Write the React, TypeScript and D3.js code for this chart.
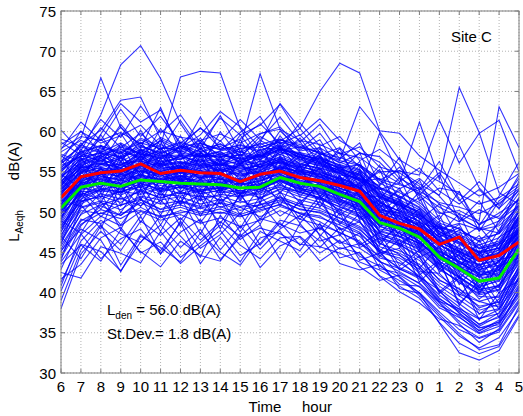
import React from "react";
import * as d3 from "d3";

// Hour-of-day axis, starting at 06:00 and running through the night
const hours = [6, 7, 8, 9, 10, 11, 12, 13, 14, 15, 16, 17, 18, 19, 20, 21, 22, 23, 0, 1, 2, 3, 4, 5];
const yTicks = [30, 35, 40, 45, 50, 55, 60, 65, 70, 75];

// Energetic average of the hourly levels (red)
const energeticMean = [51.8, 54.4, 54.9, 55.1, 56.0, 54.8, 55.2, 54.9, 54.8, 53.8, 54.7, 55.1, 54.3, 53.9, 53.3, 52.6, 49.6, 48.6, 47.9, 46.0, 46.9, 44.0, 44.6, 46.3];
// Arithmetic average of the hourly levels (green)
const arithmeticMean = [50.5, 53.1, 53.6, 53.2, 54.0, 53.8, 53.6, 53.5, 53.4, 53.0, 53.1, 54.3, 53.6, 53.2, 52.2, 51.3, 48.7, 48.0, 46.9, 44.4, 43.0, 41.4, 41.8, 45.4];

// Individual daily profiles of L_Aeq,h (blue)
const dailyProfiles: number[][] = [
  [53.2, 56.1, 57.0, 55.8, 57.4, 56.2, 56.9, 55.7, 56.3, 55.1, 56.0, 57.2, 56.1, 55.4, 54.8, 53.9, 51.2, 50.1, 49.3, 46.8, 45.2, 44.1, 44.9, 48.2],
  [55.0, 57.3, 56.2, 57.8, 56.5, 57.9, 56.0, 57.1, 55.9, 56.8, 55.6, 57.5, 56.9, 56.2, 55.1, 54.0, 52.3, 51.0, 48.7, 47.9, 46.3, 45.0, 46.2, 49.5],
  [52.1, 55.2, 56.4, 55.1, 56.8, 55.3, 55.9, 56.6, 54.9, 55.7, 56.3, 56.1, 55.2, 54.6, 53.7, 52.9, 50.4, 49.8, 48.2, 45.9, 44.6, 42.8, 43.7, 47.1],
  [56.3, 58.1, 57.4, 58.6, 57.2, 56.8, 58.0, 56.9, 57.5, 56.1, 57.3, 58.4, 57.0, 56.7, 55.9, 55.2, 53.1, 52.0, 50.6, 48.4, 47.2, 45.9, 46.8, 50.3],
  [51.4, 54.0, 55.3, 54.2, 55.6, 56.1, 54.8, 55.5, 56.0, 54.6, 55.1, 56.7, 55.8, 54.9, 54.2, 53.1, 50.6, 49.2, 47.9, 46.1, 44.2, 43.5, 44.0, 46.9],
  [54.2, 56.7, 55.9, 57.0, 58.3, 57.1, 56.5, 57.8, 56.4, 57.2, 56.8, 57.9, 56.3, 55.8, 55.3, 54.6, 51.9, 51.1, 49.9, 47.5, 46.6, 44.8, 45.5, 49.0],
  [49.8, 53.5, 54.6, 55.9, 55.0, 54.4, 55.7, 54.3, 55.2, 55.8, 54.4, 55.6, 55.0, 54.1, 53.5, 52.4, 50.1, 48.9, 47.4, 45.2, 43.8, 42.1, 43.2, 46.0],
  [57.5, 58.9, 58.0, 57.3, 59.2, 58.1, 57.6, 58.5, 57.8, 58.3, 57.4, 59.0, 58.2, 57.3, 56.4, 55.8, 53.6, 52.4, 51.2, 49.0, 47.9, 46.3, 47.4, 51.2],
  [50.2, 52.8, 53.9, 52.7, 54.3, 53.5, 54.1, 53.0, 53.8, 52.6, 53.4, 54.6, 53.7, 53.0, 52.1, 51.0, 48.2, 47.6, 46.4, 43.9, 42.3, 40.8, 41.4, 44.8],
  [48.6, 52.1, 53.2, 54.0, 53.1, 54.2, 53.3, 54.4, 52.9, 53.6, 52.8, 54.0, 53.2, 52.7, 51.6, 50.8, 48.9, 47.3, 46.1, 44.2, 43.1, 41.9, 42.0, 45.3],
  [51.7, 54.3, 54.0, 53.5, 55.2, 54.6, 53.8, 54.9, 54.1, 53.7, 54.5, 55.4, 54.3, 53.9, 52.9, 52.1, 49.4, 48.8, 47.6, 45.1, 43.7, 42.4, 42.9, 46.4],
  [49.1, 53.0, 52.6, 53.8, 54.7, 53.0, 54.6, 53.2, 54.3, 52.4, 53.9, 54.8, 53.1, 53.5, 52.4, 51.6, 49.0, 48.1, 46.8, 44.6, 43.4, 41.0, 41.7, 45.0],
  [52.6, 53.9, 54.8, 53.1, 53.9, 55.1, 53.1, 53.8, 53.5, 54.2, 52.9, 54.1, 54.4, 52.8, 52.0, 50.9, 48.5, 48.3, 47.2, 44.9, 42.9, 41.6, 42.5, 45.8],
  [47.9, 51.6, 52.9, 52.4, 53.6, 52.7, 53.5, 52.6, 53.1, 52.9, 53.6, 54.0, 52.9, 52.5, 51.4, 50.4, 47.9, 47.4, 46.0, 43.6, 42.0, 40.3, 40.9, 44.1],
  [50.9, 54.6, 53.4, 54.7, 54.1, 53.9, 54.5, 53.6, 52.8, 53.3, 54.0, 55.0, 53.9, 53.7, 52.6, 51.9, 49.6, 48.5, 47.1, 45.4, 43.6, 42.7, 42.2, 46.1],
  [53.6, 55.3, 54.5, 54.0, 55.8, 54.2, 55.0, 54.6, 54.7, 53.9, 54.1, 55.7, 54.8, 54.3, 53.3, 52.5, 49.8, 49.1, 48.0, 46.0, 44.5, 43.1, 43.8, 47.3],
  [47.2, 50.6, 51.4, 50.8, 52.0, 51.5, 51.9, 51.0, 51.6, 50.7, 51.3, 52.4, 51.5, 50.9, 49.8, 48.7, 46.6, 45.9, 44.6, 42.1, 40.4, 38.9, 39.6, 43.0],
  [45.8, 49.7, 50.9, 51.7, 50.8, 52.3, 51.0, 52.1, 50.6, 51.4, 50.5, 51.8, 50.7, 50.2, 49.3, 48.2, 46.1, 45.2, 44.0, 41.6, 40.1, 38.3, 38.8, 42.4],
  [48.4, 51.3, 52.0, 51.2, 52.8, 51.7, 52.6, 51.5, 52.2, 51.9, 52.4, 53.1, 52.2, 51.6, 50.7, 49.5, 47.3, 46.6, 45.3, 42.8, 41.5, 39.7, 40.3, 43.6],
  [46.5, 50.2, 49.8, 50.9, 51.6, 50.4, 51.3, 50.5, 51.1, 50.2, 50.9, 51.5, 50.3, 50.0, 48.9, 47.8, 45.7, 44.9, 43.5, 41.2, 39.6, 37.8, 38.5, 41.9],
  [49.5, 52.4, 51.6, 52.6, 53.1, 52.2, 52.0, 52.7, 51.4, 52.5, 51.8, 52.9, 52.6, 51.8, 51.0, 50.1, 47.7, 47.0, 45.8, 43.3, 41.9, 40.1, 40.7, 44.3],
  [44.6, 48.9, 50.3, 49.6, 51.2, 50.0, 50.6, 49.8, 50.4, 49.5, 50.1, 51.0, 49.8, 49.3, 48.4, 47.3, 45.2, 44.6, 43.2, 40.8, 39.1, 37.4, 38.0, 41.3],
  [52.8, 54.9, 56.8, 54.1, 57.1, 53.6, 56.2, 54.0, 57.0, 53.9, 56.5, 55.3, 57.4, 53.8, 55.6, 51.8, 52.0, 47.9, 49.5, 44.3, 46.8, 41.8, 45.1, 47.6],
  [50.0, 55.8, 52.5, 56.3, 53.2, 56.7, 52.8, 55.9, 53.4, 56.1, 52.7, 56.6, 53.3, 55.5, 51.7, 53.6, 48.1, 50.6, 45.7, 47.3, 42.6, 45.2, 41.5, 48.8],
  [54.7, 52.9, 55.4, 52.3, 56.0, 52.5, 55.6, 52.2, 55.4, 52.1, 55.2, 53.4, 55.7, 51.9, 54.5, 50.3, 51.5, 46.9, 48.8, 43.4, 45.9, 40.5, 44.1, 44.6],
  [46.9, 52.6, 50.4, 53.3, 50.7, 54.0, 51.2, 54.2, 51.0, 53.8, 51.6, 53.7, 51.2, 53.4, 49.6, 51.4, 46.3, 48.4, 44.4, 45.6, 41.0, 43.6, 39.9, 46.6],
  [55.8, 56.9, 59.1, 56.4, 58.7, 55.6, 58.4, 56.3, 58.9, 55.9, 58.6, 57.1, 59.2, 56.0, 57.4, 53.7, 54.2, 50.3, 51.8, 46.9, 48.5, 44.0, 47.8, 50.9],
  [51.0, 53.7, 51.2, 55.0, 52.3, 54.8, 52.4, 55.3, 52.0, 55.0, 52.2, 55.9, 51.9, 54.9, 50.8, 52.8, 47.4, 49.7, 45.0, 46.6, 41.7, 44.4, 40.6, 47.9],
  [38.0, 44.8, 47.6, 45.2, 48.9, 47.1, 49.3, 46.5, 48.8, 47.0, 49.2, 48.5, 47.4, 48.0, 46.3, 45.5, 43.9, 42.6, 41.1, 38.4, 37.2, 35.6, 36.3, 39.8],
  [40.2, 46.0, 45.1, 42.7, 46.3, 48.4, 45.6, 47.9, 44.1, 46.9, 48.0, 47.3, 46.0, 45.7, 44.9, 43.8, 42.8, 41.5, 40.0, 37.6, 35.4, 34.3, 35.1, 38.7],
  [41.7, 43.5, 46.8, 48.1, 44.9, 46.3, 43.6, 45.8, 47.7, 44.6, 46.1, 49.0, 48.3, 46.4, 47.2, 44.5, 43.3, 41.9, 39.6, 37.0, 34.6, 33.1, 34.4, 37.9],
  [43.8, 47.3, 44.2, 46.7, 47.9, 44.8, 47.5, 49.1, 45.3, 48.3, 45.4, 47.9, 49.6, 47.2, 45.4, 46.1, 44.6, 43.1, 42.0, 39.2, 37.7, 36.1, 36.9, 40.6],
  [39.0, 45.3, 48.5, 43.4, 47.2, 45.2, 48.7, 43.6, 46.9, 43.8, 47.6, 46.4, 45.2, 48.6, 44.3, 45.0, 42.1, 40.8, 39.3, 36.3, 33.7, 32.4, 33.3, 37.2],
  [42.5, 41.8, 45.7, 44.9, 43.7, 47.6, 44.4, 46.2, 48.4, 45.9, 44.2, 46.8, 47.0, 44.9, 46.5, 43.2, 41.5, 42.2, 40.7, 38.8, 36.4, 34.9, 35.8, 39.1],
  [55.2, 57.6, 62.1, 68.3, 70.7, 66.6, 61.0, 57.4, 58.2, 56.5, 57.0, 58.3, 56.6, 55.9, 54.8, 53.6, 51.2, 50.1, 48.8, 46.3, 45.1, 43.9, 44.5, 47.8],
  [56.8, 59.2, 66.7, 60.5, 58.3, 57.2, 58.6, 56.9, 57.5, 56.3, 57.8, 58.0, 57.2, 56.4, 55.6, 54.2, 52.0, 50.7, 49.5, 47.2, 46.0, 44.6, 45.3, 49.6],
  [54.1, 58.4, 60.2, 63.9, 64.3, 59.1, 57.8, 58.9, 56.9, 57.6, 56.2, 57.4, 56.8, 56.0, 55.1, 53.9, 51.7, 50.9, 49.2, 46.9, 45.4, 44.2, 45.0, 48.7],
  [57.2, 56.3, 59.7, 63.5, 61.2, 62.7, 58.2, 57.5, 58.5, 57.0, 58.9, 57.7, 58.1, 56.9, 55.8, 55.0, 52.6, 51.5, 50.3, 48.0, 46.7, 45.5, 46.0, 50.1],
  [58.4, 60.0, 58.6, 59.5, 60.8, 58.3, 66.8, 67.5, 67.3, 60.4, 56.8, 58.6, 57.1, 56.5, 55.4, 54.5, 52.2, 51.3, 50.0, 47.6, 46.3, 45.1, 45.9, 49.4],
  [55.6, 57.0, 57.9, 56.8, 58.1, 57.4, 58.0, 59.6, 62.5, 60.6, 58.0, 59.0, 58.4, 57.3, 56.2, 55.3, 53.0, 51.9, 50.5, 48.2, 47.0, 45.6, 46.4, 50.0],
  [53.9, 56.2, 57.1, 57.9, 56.7, 58.4, 57.3, 57.0, 57.6, 58.1, 67.2, 60.3, 57.4, 56.8, 55.7, 54.7, 52.4, 51.2, 49.8, 47.3, 46.1, 44.9, 45.6, 49.2],
  [56.1, 57.5, 58.3, 57.2, 59.0, 57.8, 58.7, 57.9, 58.4, 57.4, 58.6, 63.5, 60.4, 65.0, 68.5, 67.3, 60.1, 59.8, 57.0, 55.2, 53.6, 52.0, 53.1, 54.8],
  [54.5, 56.0, 56.8, 58.1, 57.3, 56.6, 58.2, 57.1, 56.8, 57.9, 58.4, 59.1, 57.6, 58.0, 56.5, 63.1, 60.0, 56.5, 55.0, 53.8, 52.2, 51.0, 51.8, 53.5],
  [53.5, 55.9, 56.5, 55.8, 57.2, 56.0, 56.9, 56.3, 56.6, 55.8, 56.7, 57.6, 56.5, 55.7, 55.0, 54.1, 52.8, 53.6, 61.2, 54.1, 65.5, 59.9, 52.4, 51.0],
  [52.8, 55.1, 55.9, 56.7, 55.9, 56.8, 55.6, 56.5, 55.8, 56.4, 55.9, 56.9, 56.0, 55.3, 54.2, 53.5, 55.0, 55.1, 54.6, 61.4, 56.1, 59.8, 61.4, 55.0],
  [51.6, 54.2, 55.3, 54.9, 56.1, 55.4, 55.8, 55.2, 55.6, 55.0, 55.5, 56.3, 55.4, 54.8, 53.6, 52.7, 59.8, 54.5, 52.0, 49.8, 50.2, 48.9, 63.1, 58.0],
  [55.0, 57.4, 58.2, 57.5, 58.6, 57.9, 58.0, 58.6, 57.7, 58.4, 57.6, 58.8, 60.4, 57.4, 56.8, 55.9, 54.0, 55.2, 53.5, 52.1, 58.3, 53.0, 50.5, 52.7],
  [60.2, 57.5, 56.8, 58.4, 57.1, 58.9, 57.4, 58.3, 57.2, 57.9, 58.1, 58.7, 58.0, 57.5, 56.1, 57.3, 56.9, 54.2, 52.8, 56.3, 51.6, 48.4, 49.9, 51.5],
  [50.8, 53.4, 54.2, 53.6, 54.5, 54.0, 54.3, 53.9, 54.1, 53.4, 53.8, 54.9, 54.0, 53.2, 51.7, 50.2, 46.9, 45.8, 43.2, 40.1, 38.2, 36.0, 37.5, 42.7],
  [49.3, 52.7, 53.5, 52.9, 53.8, 53.3, 53.0, 53.6, 53.2, 53.1, 52.6, 54.2, 53.0, 52.4, 50.9, 49.6, 46.2, 44.7, 42.4, 39.3, 37.5, 35.2, 36.6, 41.8],
  [52.3, 54.8, 55.6, 54.7, 55.9, 55.1, 55.5, 54.8, 55.3, 54.5, 55.0, 55.8, 54.9, 54.4, 53.5, 52.3, 50.9, 50.2, 49.6, 48.1, 47.5, 46.7, 47.3, 49.9],
  [48.2, 51.9, 52.8, 52.1, 53.3, 52.5, 53.1, 52.3, 52.7, 52.0, 52.6, 53.4, 52.5, 51.7, 50.3, 49.4, 46.8, 46.1, 45.0, 43.0, 41.3, 39.5, 39.4, 43.9],
  [53.0, 55.6, 56.1, 55.5, 56.9, 55.9, 56.3, 55.6, 56.0, 55.2, 55.9, 56.8, 55.6, 55.1, 54.0, 53.0, 50.0, 49.5, 48.3, 45.8, 44.9, 43.4, 44.3, 47.6],
  [47.6, 51.0, 52.3, 51.6, 52.6, 51.8, 52.4, 51.9, 52.0, 51.2, 51.7, 52.8, 51.9, 51.2, 50.0, 48.9, 45.4, 44.0, 41.9, 38.7, 36.1, 33.8, 35.5, 40.4],
  [51.2, 53.8, 54.7, 54.5, 55.1, 54.8, 54.9, 55.2, 54.6, 54.9, 54.7, 55.5, 55.1, 54.5, 53.0, 51.9, 49.2, 48.4, 47.0, 44.7, 43.3, 42.5, 43.9, 47.0],
  [45.1, 49.1, 48.6, 49.9, 50.2, 49.5, 49.9, 50.5, 49.8, 50.6, 49.4, 50.7, 49.9, 49.5, 48.0, 47.0, 44.3, 43.7, 42.1, 39.7, 37.9, 35.6, 36.0, 40.2],
  [46.2, 50.5, 51.2, 50.3, 51.9, 51.0, 51.4, 50.7, 51.2, 50.6, 50.9, 51.9, 51.0, 50.5, 49.2, 48.0, 45.2, 42.0, 39.9, 36.2, 32.5, 31.6, 32.8, 37.0],
  [44.3, 48.5, 49.9, 49.2, 50.6, 49.3, 50.2, 49.6, 50.0, 49.4, 50.3, 50.9, 49.8, 48.8, 47.4, 46.4, 44.0, 40.5, 39.9, 37.3, 34.9, 32.9, 33.5, 38.3],
  [40.8, 47.2, 49.5, 48.3, 50.1, 49.0, 49.7, 48.6, 49.3, 48.2, 49.0, 50.2, 49.1, 48.4, 47.5, 46.2, 43.8, 43.0, 41.7, 39.0, 37.0, 35.0, 36.2, 39.5],
  [42.9, 48.3, 50.8, 49.6, 51.5, 50.3, 50.9, 50.0, 50.7, 49.7, 50.5, 51.3, 50.4, 49.9, 48.7, 47.5, 45.0, 44.3, 42.9, 40.4, 38.6, 36.8, 37.4, 41.0],
  [51.9, 54.5, 55.0, 54.4, 55.5, 54.6, 54.9, 54.3, 54.7, 54.0, 54.6, 55.6, 54.5, 54.0, 53.0, 52.2, 49.3, 48.6, 47.3, 45.0, 43.9, 42.2, 42.8, 46.6],
  [50.4, 53.3, 54.1, 53.4, 54.8, 53.7, 54.2, 53.7, 53.9, 53.5, 53.9, 54.7, 53.8, 53.3, 52.3, 51.3, 48.6, 47.8, 46.7, 44.3, 42.7, 41.3, 41.9, 45.5],
  [52.9, 55.5, 55.7, 56.0, 56.3, 55.7, 56.1, 55.4, 55.9, 55.4, 55.3, 56.4, 55.7, 55.0, 54.1, 53.3, 50.8, 49.9, 48.9, 46.5, 45.5, 44.5, 44.7, 47.9],
  [49.8, 52.2, 53.0, 52.5, 53.5, 52.9, 53.4, 52.8, 53.0, 52.3, 52.9, 53.8, 52.8, 52.1, 51.2, 50.3, 47.6, 46.9, 45.6, 43.5, 41.8, 40.4, 40.8, 44.6],
  [53.4, 56.4, 57.6, 56.7, 57.8, 56.9, 57.6, 56.8, 57.2, 56.6, 57.0, 57.8, 57.2, 56.6, 55.4, 54.7, 52.1, 50.8, 49.7, 47.6, 46.2, 45.0, 45.5, 49.3],
  [48.0, 51.4, 51.9, 52.6, 52.2, 53.0, 52.3, 52.9, 52.4, 52.7, 52.1, 53.3, 52.4, 51.8, 50.6, 49.9, 47.1, 46.4, 45.5, 43.1, 41.2, 39.9, 40.4, 44.0],
  [54.0, 51.9, 57.2, 53.4, 58.0, 52.6, 57.5, 51.8, 56.9, 53.0, 57.8, 54.6, 52.4, 56.3, 51.2, 55.0, 48.8, 51.6, 46.0, 48.9, 43.1, 46.5, 42.7, 49.6],
  [49.0, 55.1, 51.8, 57.0, 51.5, 56.2, 50.9, 57.3, 52.3, 56.7, 51.1, 57.0, 53.1, 51.5, 54.6, 49.0, 50.3, 45.6, 48.1, 42.5, 44.8, 39.8, 43.5, 45.2],
  [56.5, 53.6, 58.3, 54.9, 57.6, 58.8, 53.9, 58.1, 55.2, 52.9, 58.3, 56.0, 54.7, 57.9, 53.4, 55.8, 52.6, 48.5, 50.4, 45.9, 47.3, 43.0, 46.9, 48.4],
  [47.5, 53.1, 55.6, 50.8, 55.2, 51.1, 55.8, 50.6, 54.6, 51.4, 54.9, 50.8, 55.3, 52.0, 50.1, 52.7, 45.9, 48.8, 43.0, 45.9, 39.6, 42.4, 38.6, 44.9],
  [53.1, 57.9, 53.6, 58.5, 54.3, 59.2, 55.0, 58.7, 54.5, 59.0, 55.4, 59.5, 56.4, 58.1, 53.8, 56.3, 50.5, 53.0, 48.0, 49.6, 45.0, 47.1, 43.8, 50.4],
  [51.5, 50.7, 55.1, 49.9, 53.7, 49.6, 54.4, 49.5, 53.1, 49.7, 53.2, 51.6, 50.8, 53.8, 48.5, 51.2, 45.1, 47.6, 42.2, 44.0, 38.4, 41.6, 37.9, 43.4],
  [44.0, 50.9, 47.9, 53.5, 48.7, 52.7, 48.2, 52.8, 47.9, 52.3, 48.5, 52.6, 49.1, 52.0, 47.1, 49.9, 44.5, 46.6, 41.3, 43.8, 38.7, 40.9, 36.9, 42.1],
  [57.0, 55.4, 59.6, 56.2, 60.2, 55.8, 59.5, 55.5, 60.0, 56.8, 59.4, 58.0, 58.8, 55.2, 57.9, 53.0, 55.3, 49.9, 52.5, 47.2, 49.8, 44.7, 49.0, 50.8],
  [52.4, 56.6, 54.7, 56.9, 54.8, 58.1, 53.7, 57.4, 55.6, 58.0, 54.2, 58.3, 55.0, 57.2, 52.8, 55.4, 49.9, 51.9, 47.0, 48.5, 44.1, 46.0, 43.0, 49.1],
  [50.6, 51.5, 54.9, 52.0, 56.6, 51.9, 55.3, 51.4, 56.4, 51.6, 56.1, 52.3, 55.9, 50.6, 54.3, 49.2, 51.0, 46.0, 47.9, 42.9, 45.3, 40.0, 43.3, 44.3],
  [45.4, 49.8, 52.4, 47.8, 52.9, 48.4, 52.5, 48.7, 51.9, 48.0, 52.0, 49.5, 51.2, 47.8, 50.5, 45.9, 47.5, 43.3, 45.3, 40.1, 42.1, 36.6, 40.0, 41.5],
  [53.7, 56.8, 52.9, 57.6, 52.9, 57.4, 53.5, 56.9, 52.6, 57.3, 53.3, 57.9, 52.8, 56.9, 52.2, 55.1, 48.7, 51.4, 45.4, 48.3, 43.5, 44.8, 42.2, 48.0],
  [55.4, 58.6, 55.9, 59.8, 56.1, 60.4, 56.9, 59.2, 56.1, 59.6, 56.4, 60.1, 57.7, 59.0, 55.0, 57.4, 51.6, 54.3, 49.0, 51.0, 46.6, 48.2, 45.3, 51.8],
  [48.9, 47.4, 51.3, 48.4, 51.8, 47.6, 51.9, 47.3, 51.5, 47.5, 51.2, 48.1, 51.6, 47.0, 49.9, 45.6, 46.8, 42.8, 44.5, 39.9, 41.8, 37.3, 39.2, 42.6],
  [52.0, 54.2, 57.5, 55.0, 55.7, 57.5, 54.7, 57.6, 54.0, 56.0, 57.2, 55.2, 56.9, 54.2, 55.9, 52.0, 53.2, 48.3, 49.8, 46.1, 47.8, 42.6, 46.0, 47.3],
  [46.0, 52.3, 49.4, 52.0, 49.6, 51.5, 49.0, 51.7, 48.6, 52.2, 49.1, 52.1, 48.6, 51.4, 47.8, 48.8, 44.9, 45.5, 42.6, 42.4, 39.8, 38.9, 38.2, 42.9],
  [52.5, 55.0, 55.5, 55.2, 56.0, 55.2, 55.6, 55.0, 55.4, 54.7, 55.2, 56.1, 55.3, 54.7, 53.6, 52.8, 51.5, 49.4, 48.5, 46.9, 48.1, 45.4, 46.2, 47.8],
  [50.1, 53.0, 53.8, 53.2, 54.4, 53.6, 53.9, 53.2, 53.7, 53.0, 53.5, 54.4, 53.4, 52.9, 51.9, 51.0, 47.5, 46.0, 44.3, 41.5, 40.5, 38.1, 38.9, 43.2],
  [54.6, 56.9, 57.3, 56.9, 57.7, 57.0, 57.1, 56.9, 57.0, 56.7, 57.2, 58.0, 56.8, 56.0, 54.9, 54.1, 51.8, 50.9, 50.1, 47.9, 48.6, 47.8, 48.3, 50.7],
  [49.4, 52.6, 52.5, 52.8, 53.9, 52.6, 53.2, 52.5, 53.6, 52.2, 53.4, 53.9, 52.7, 52.3, 51.3, 50.6, 48.4, 47.9, 46.3, 43.9, 42.1, 39.2, 41.0, 44.7],
  [51.3, 53.6, 54.4, 54.1, 54.6, 54.1, 54.5, 54.3, 54.4, 54.1, 54.2, 55.2, 54.2, 53.6, 52.5, 51.4, 49.8, 48.0, 46.4, 44.0, 44.6, 42.3, 42.1, 47.2],
  [55.3, 57.0, 56.4, 57.4, 56.9, 57.6, 56.6, 57.3, 56.8, 57.1, 56.5, 57.9, 56.9, 56.3, 55.5, 55.9, 54.1, 53.4, 52.6, 51.2, 50.6, 49.8, 51.1, 52.9],
  [53.8, 55.7, 57.0, 56.1, 56.4, 55.5, 57.2, 55.9, 56.5, 56.0, 57.1, 56.2, 55.6, 56.8, 54.6, 54.2, 52.9, 51.8, 53.1, 50.0, 48.8, 50.3, 49.2, 51.6],
  [57.9, 59.4, 58.9, 59.9, 58.5, 60.1, 59.3, 58.9, 59.7, 58.6, 59.8, 60.3, 58.9, 58.4, 57.3, 56.8, 55.0, 53.6, 52.3, 50.6, 49.4, 47.9, 48.9, 52.4],
  [50.2, 54.8, 56.7, 55.4, 57.7, 56.3, 56.6, 57.9, 55.7, 57.5, 56.9, 58.2, 55.9, 57.0, 54.4, 53.1, 51.0, 52.7, 50.9, 48.6, 47.9, 46.4, 48.6, 51.8],
  [56.0, 58.3, 57.6, 60.6, 57.4, 59.3, 58.1, 60.5, 57.9, 59.1, 61.0, 58.5, 59.6, 57.1, 58.0, 55.6, 53.9, 52.9, 54.2, 52.0, 49.2, 48.0, 47.4, 50.6],
  [43.5, 45.9, 43.9, 47.8, 45.1, 43.2, 46.4, 44.6, 43.9, 47.3, 43.1, 45.8, 46.9, 43.9, 45.6, 44.9, 42.0, 40.1, 38.7, 36.7, 35.9, 34.4, 35.3, 38.9],
  [45.2, 47.9, 46.5, 42.6, 47.0, 45.6, 43.8, 47.4, 45.0, 43.4, 46.8, 47.6, 44.4, 46.9, 43.6, 42.8, 43.5, 41.0, 40.8, 38.1, 36.9, 35.3, 36.4, 40.8],
  [47.0, 44.2, 48.3, 46.0, 49.5, 44.8, 48.9, 45.5, 47.2, 49.9, 45.9, 48.7, 45.9, 48.2, 46.1, 47.4, 43.0, 42.4, 41.2, 38.9, 38.0, 36.7, 37.9, 41.8],
  [41.3, 46.4, 49.0, 47.3, 46.2, 49.6, 47.0, 44.4, 49.6, 46.6, 48.4, 44.1, 48.6, 45.6, 48.1, 44.0, 44.9, 42.9, 41.9, 40.3, 37.4, 35.8, 37.1, 39.9],
  [50.7, 53.6, 55.4, 54.6, 56.1, 55.0, 55.8, 54.1, 55.5, 54.3, 55.7, 56.2, 55.5, 54.4, 53.8, 52.6, 50.3, 49.6, 48.6, 46.3, 45.1, 43.8, 44.6, 47.5],
  [52.2, 55.9, 54.8, 55.5, 54.6, 56.5, 54.4, 56.1, 54.9, 55.9, 54.8, 56.5, 54.6, 55.4, 53.2, 53.4, 50.2, 49.9, 48.1, 46.7, 45.0, 44.0, 45.3, 48.1],
  [48.8, 52.9, 54.4, 53.9, 55.4, 53.8, 55.2, 54.5, 54.2, 53.9, 54.8, 55.3, 54.7, 53.4, 52.7, 51.5, 49.0, 48.7, 47.8, 45.6, 43.9, 42.9, 43.4, 46.2],
  [51.0, 54.1, 56.0, 54.8, 57.0, 55.6, 55.4, 56.2, 55.1, 56.1, 55.6, 56.6, 55.0, 54.7, 53.9, 53.0, 51.3, 49.2, 48.4, 46.4, 44.9, 43.3, 44.9, 47.9],
  [49.7, 53.8, 53.1, 55.4, 53.6, 55.0, 54.0, 54.0, 54.9, 53.5, 54.8, 54.4, 54.2, 53.8, 52.7, 51.7, 49.1, 48.2, 47.5, 44.8, 43.2, 42.0, 42.7, 46.8],
  [46.7, 51.2, 52.8, 53.3, 52.7, 54.1, 52.6, 53.3, 52.6, 53.7, 53.0, 53.9, 52.9, 52.6, 51.5, 50.7, 48.3, 47.0, 46.2, 44.5, 42.5, 40.6, 41.6, 45.7],
  [57.8, 61.2, 58.9, 62.8, 59.4, 61.9, 58.6, 60.4, 58.8, 61.5, 59.0, 61.8, 58.7, 60.9, 57.2, 58.1, 55.6, 54.9, 53.2, 51.0, 49.8, 48.6, 49.5, 52.8],
  [59.1, 58.2, 61.5, 59.3, 63.2, 59.8, 62.1, 58.6, 61.7, 59.6, 60.8, 63.4, 59.5, 61.6, 58.9, 57.4, 56.2, 53.8, 55.5, 52.6, 51.0, 52.8, 50.4, 54.6],
  [56.2, 60.1, 57.3, 60.9, 58.0, 63.0, 57.5, 61.8, 57.7, 59.9, 61.9, 57.9, 61.1, 58.2, 59.4, 56.4, 57.8, 55.9, 52.1, 54.6, 48.9, 51.4, 47.5, 53.9],
  [58.7, 57.1, 60.5, 58.0, 59.8, 57.6, 61.4, 57.8, 62.0, 57.5, 59.7, 60.6, 57.9, 59.8, 56.6, 58.6, 53.4, 56.8, 51.4, 53.0, 52.5, 48.3, 52.0, 56.2],
  [54.4, 56.5, 57.4, 56.3, 57.5, 56.7, 57.0, 56.2, 57.3, 56.2, 56.9, 57.7, 57.4, 56.1, 55.2, 54.3, 53.3, 55.6, 52.7, 54.9, 51.4, 53.8, 50.8, 54.2],
  [53.3, 55.5, 56.0, 55.6, 56.6, 55.8, 56.2, 55.8, 56.1, 55.5, 55.7, 56.6, 55.9, 55.5, 54.9, 52.9, 55.8, 51.5, 54.0, 49.1, 52.6, 47.6, 51.4, 53.2],
];

const W = 523;
const H = 416;
const left = 61;
const right = 519;
const top = 11;
const bottom = 373;
const font = "'Liberation Sans', Arial, Helvetica, sans-serif";

export default function App() {
  const x = d3.scaleLinear().domain([0, hours.length - 1]).range([left, right]);
  const y = d3.scaleLinear().domain([30, 75]).range([bottom, top]);
  const line = d3
    .line<number>()
    .x((_, i) => x(i))
    .y((v) => y(v));

  const axisColor = "#7f7f7f";
  const gridColor = "#b4b4b4";
  const tickLen = 4;

  return (
    <svg width={W} height={H} style={{ position: "absolute", left: 0, top: 0, background: "#fff" }} fontFamily={font}>
      <defs>
        <clipPath id="plotArea">
          <rect x={left} y={top} width={right - left} height={bottom - top} />
        </clipPath>
      </defs>

      {/* dotted grid */}
      <g stroke={gridColor} strokeWidth={1} strokeDasharray="1,2">
        {hours.map((_, i) => (
          <line key={`gx${i}`} x1={x(i)} x2={x(i)} y1={top} y2={bottom} />
        ))}
        {yTicks.map((t) => (
          <line key={`gy${t}`} x1={left} x2={right} y1={y(t)} y2={y(t)} />
        ))}
      </g>

      {/* daily profiles */}
      <g clipPath="url(#plotArea)" fill="none" stroke="#0000ff" strokeWidth={1.1} strokeOpacity={0.8}>
        {dailyProfiles.map((d, i) => (
          <path key={i} d={line(d) ?? ""} />
        ))}
      </g>

      {/* averages */}
      <g clipPath="url(#plotArea)" fill="none" strokeWidth={3} strokeLinejoin="round">
        <path d={line(energeticMean) ?? ""} stroke="#ff0000" />
        <path d={line(arithmeticMean) ?? ""} stroke="#00ee00" />
      </g>

      {/* axes box and ticks */}
      <rect x={left} y={top} width={right - left} height={bottom - top} fill="none" stroke={axisColor} strokeWidth={1} />
      <g stroke={axisColor} strokeWidth={1}>
        {hours.map((_, i) => (
          <g key={`tx${i}`}>
            <line x1={x(i)} x2={x(i)} y1={bottom} y2={bottom - tickLen} />
            <line x1={x(i)} x2={x(i)} y1={top} y2={top + tickLen} />
          </g>
        ))}
        {yTicks.map((t) => (
          <g key={`ty${t}`}>
            <line x1={left} x2={left + tickLen} y1={y(t)} y2={y(t)} />
            <line x1={right} x2={right - tickLen} y1={y(t)} y2={y(t)} />
          </g>
        ))}
      </g>

      {/* tick labels */}
      <g fontSize={15} fill="#000">
        {hours.map((h, i) => (
          <text key={`lx${i}`} x={x(i)} y={392} textAnchor="middle">
            {h}
          </text>
        ))}
        {yTicks.map((t) => (
          <text key={`ly${t}`} x={56} y={y(t) + 5.5} textAnchor="end">
            {t}
          </text>
        ))}
      </g>

      {/* axis titles */}
      <g fontSize={15} fill="#000">
        <text x={265} y={412} textAnchor="middle">Time</text>
        <text x={317} y={412} textAnchor="middle">hour</text>
        <text transform="translate(19,161) rotate(-90)" textAnchor="middle">dB(A)</text>
        <text transform="translate(19,226) rotate(-90)" textAnchor="middle">
          L<tspan fontSize={10} dy={4}>Aeqh</tspan>
        </text>
        <text x={451} y={42}>Site C</text>
        <text x={107} y={315}>
          L<tspan fontSize={10} dy={4}>den</tspan>
          <tspan dy={-4}> = 56.0 dB(A)</tspan>
        </text>
        <text x={107} y={339}>St.Dev.= 1.8 dB(A)</text>
      </g>
    </svg>
  );
}
